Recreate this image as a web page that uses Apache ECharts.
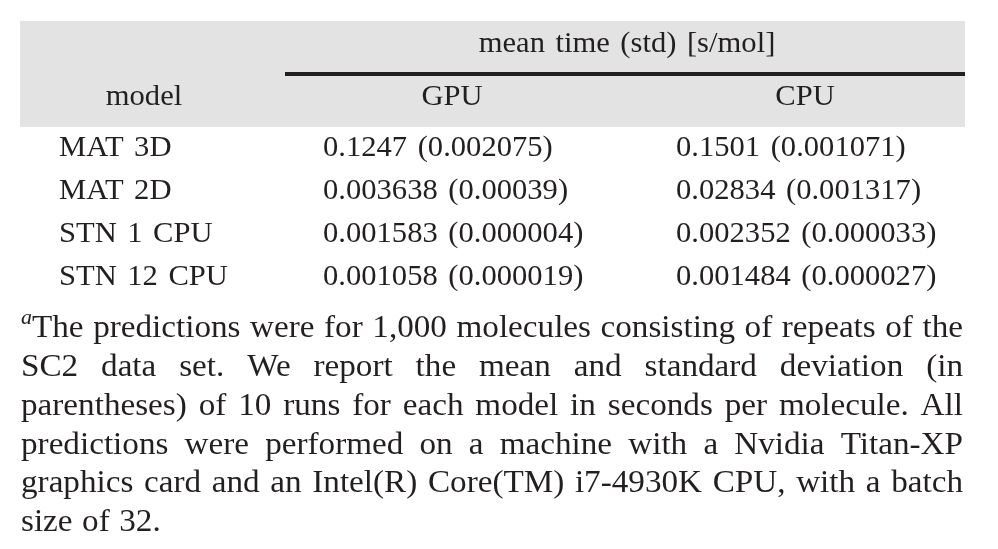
<!DOCTYPE html>
<html>
<head>
<meta charset="utf-8">
<script src="https://cdn.jsdelivr.net/npm/echarts@6/dist/echarts.min.js"></script>
<style>
  html, body { margin: 0; padding: 0; background: #fff; }
  #main { width: 998px; height: 549px; }
</style>
</head>
<body>
<div id="main"></div>
<script>
// table data
var groupTitle = 'mean time (std) [s/mol]';
var colHeads = ['model', 'GPU', 'CPU'];
var models = ['MAT 3D', 'MAT 2D', 'STN 1 CPU', 'STN 12 CPU'];
var gpuMean = ['0.1247', '0.003638', '0.001583', '0.001058'];
var gpuStd = ['0.002075', '0.00039', '0.000004', '0.000019'];
var cpuMean = ['0.1501', '0.02834', '0.002352', '0.001484'];
var cpuStd = ['0.001071', '0.001317', '0.000033', '0.000027'];
var footMark = 'a';
var footLines = [
    'The predictions were for 1,000 molecules consisting of repeats of the',
    'SC2 data set. We report the mean and standard deviation (in',
    'parentheses) of 10 runs for each model in seconds per molecule. All',
    'predictions were performed on a machine with a Nvidia Titan-XP',
    'graphics card and an Intel(R) Core(TM) i7-4930K CPU, with a batch',
    'size of 32.'
];

var FONT = '"Liberation Serif", "DejaVu Serif", serif';
var INK = '#231f20';
// the original face is a bit wider than Liberation Serif, so stretch it
var tableSize = 30, tableScale = 1.02, tableGap = 10.5;
var footSize = 31, footScale = 1.07;

var myChart = echarts.init(document.getElementById('main'));

var measure = document.createElement('canvas').getContext('2d');
function textWidth(str, size) {
    measure.font = size + 'px ' + FONT;
    return measure.measureText(str).width;
}

function txt(str, x, y, size, sx, fontStr) {
    return {
        type: 'text', x: x, y: y, scaleX: sx || 1, silent: true,
        style: {
            text: str, x: 0, y: 0, fill: INK,
            font: fontStr || (size + 'px ' + FONT),
            textAlign: 'left', textVerticalAlign: 'middle'
        }
    };
}

// lay words out from x0, gap = space between words
function words(els, str, x0, y, size, sx, gap) {
    var x = x0;
    str.split(' ').forEach(function (w) {
        els.push(txt(w, x, y, size, sx));
        x += textWidth(w, size) * sx + gap;
    });
}
function lineWidth(str, size, sx, gap) {
    var ws = str.split(' ');
    var s = 0;
    ws.forEach(function (w) { s += textWidth(w, size) * sx; });
    return s + gap * (ws.length - 1);
}
function centered(els, str, cx, y) {
    var w = lineWidth(str, tableSize, tableScale, tableGap);
    words(els, str, cx - w / 2, y, tableSize, tableScale, tableGap);
}

var left = 20, right = 965;
var els = [];
// header band and rule
els.push({ type: 'rect', shape: { x: left, y: 21, width: right - left, height: 106 },
    style: { fill: '#e3e3e3' }, silent: true });
els.push({ type: 'rect', shape: { x: 285, y: 72, width: right - 285, height: 4 },
    style: { fill: INK }, silent: true });

centered(els, groupTitle, 627, 44);
centered(els, colHeads[0], 144, 97);
centered(els, colHeads[1], 452, 97);
centered(els, colHeads[2], 805, 97);

var rowY0 = 148, rowStep = 43;
models.forEach(function (m, i) {
    var y = rowY0 + i * rowStep;
    words(els, m, 59, y, tableSize, tableScale, tableGap);
    words(els, gpuMean[i] + ' (' + gpuStd[i] + ')', 323, y, tableSize, tableScale, tableGap);
    words(els, cpuMean[i] + ' (' + cpuStd[i] + ')', 676, y, tableSize, tableScale, tableGap);
});

// footnote, justified
var footY0 = 329, footStep = 38.8;
els.push(txt(footMark, 21, 318, 21, 1.05, 'italic 21px ' + FONT));
footLines.forEach(function (line, i) {
    var y = footY0 + i * footStep;
    var x0 = i === 0 ? 32 : 21;
    var n = line.split(' ').length;
    var gap = textWidth(' ', footSize) * footScale * 1.15;
    if (i < footLines.length - 1 && n > 1) {
        var bare = lineWidth(line, footSize, footScale, 0);
        gap = (right - 2 - x0 - bare) / (n - 1);
    }
    words(els, line, x0, y, footSize, footScale, gap);
});

myChart.setOption({
    animation: false,
    graphic: { elements: els }
});
</script>
</body>
</html>
